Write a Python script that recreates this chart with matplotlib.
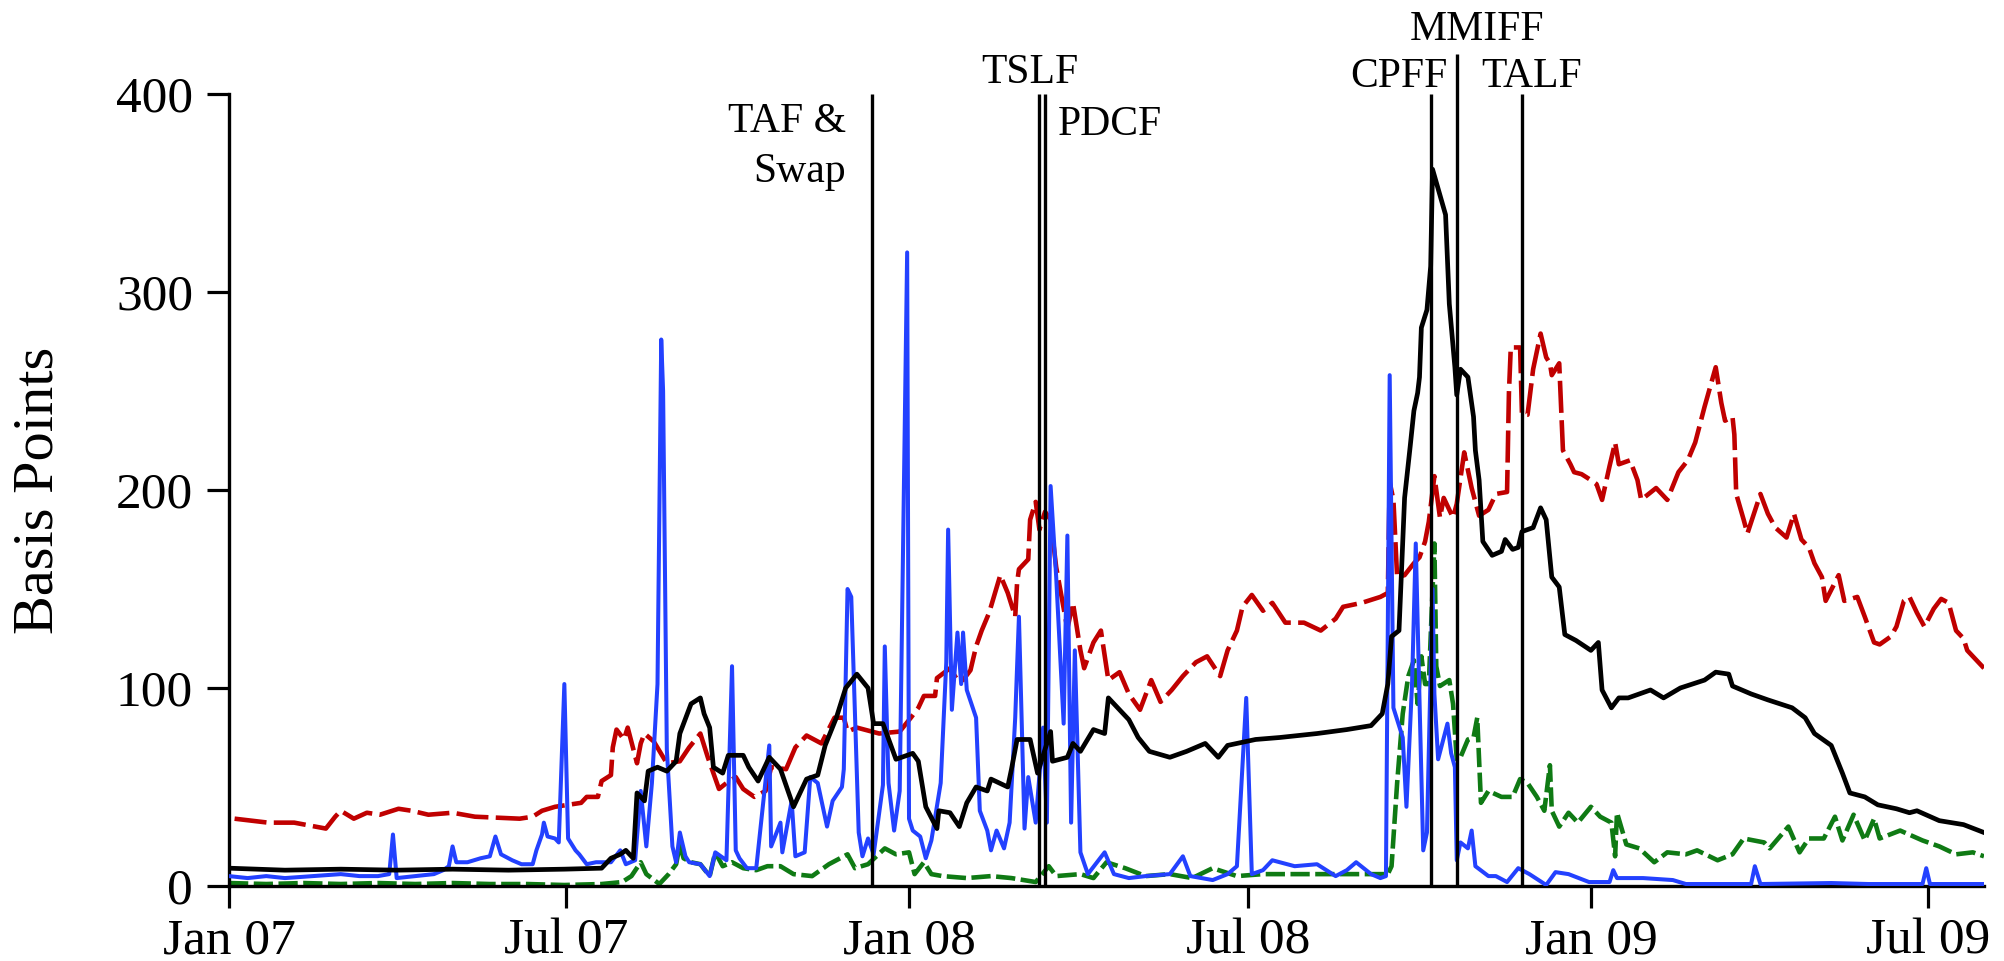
import numpy as np
import matplotlib
matplotlib.use("Agg")
import matplotlib.pyplot as plt

plt.rcParams['font.family'] = ['Liberation Serif', 'DejaVu Serif']

BASE = np.datetime64('2007-01-01')

# ---- data: day offsets from 2007-01-01 and values (basis points) ----
black_days = [0, 30, 60, 90, 120, 150, 180, 200, 205, 210, 213, 217, 219, 223, 225, 230, 235, 240, 242, 248,
              253, 255, 258, 260, 265, 268, 276, 279, 284, 290, 296, 303, 310, 316, 320, 326, 331, 337, 343, 346,
              351, 358, 367, 370, 374, 380, 381, 387, 392, 396, 401, 407, 409, 418, 420, 423, 430, 434, 438, 441,
              442, 450, 453, 457, 464, 470, 472, 477, 483, 488, 494, 505, 514, 524, 531, 536, 551, 564, 584, 600,
              613, 619, 622, 624, 628, 631, 634, 636, 638, 639, 640, 643, 645, 646, 653, 655, 658, 659, 661, 665,
              668, 669, 671, 673, 678, 683, 685, 689, 692, 694, 700, 704, 707, 710, 714, 717, 723, 731, 735, 737,
              742, 746, 751, 757, 763, 770, 779, 792, 798, 805, 807, 817, 826, 839, 846, 851, 860, 866, 870, 878,
              885, 895, 902, 906, 918, 931, 942]
black_vals = [9, 8, 8.5, 8, 8.5, 8, 8.5, 9, 14, 16, 18, 14, 47, 43, 58, 60, 58, 63, 77, 92,
              95, 87, 80, 60, 57, 66, 66, 60, 53, 65, 59, 40, 54, 56, 71, 85, 100, 107, 100, 82,
              82, 64, 67, 63, 40, 29, 38, 37, 30, 42, 50, 48, 54, 50, 59, 74, 74, 57, 69, 78,
              63, 65, 72, 68, 79, 77, 95, 90, 84, 75, 68, 65, 68, 72, 65, 71, 74, 75, 77, 79,
              81, 87, 102, 126, 129, 196, 222, 240, 249, 257, 282, 291, 313, 362, 339, 294, 262, 248, 261, 257,
              237, 220, 205, 174, 167, 169, 175, 170, 171, 179, 181, 191, 185, 156, 151, 127, 124, 119, 123, 99,
              90, 95, 95, 97, 99, 95, 100, 104, 108, 107, 101, 97, 94, 90, 85, 77, 71, 57, 47, 45,
              41, 39, 37, 38, 33, 31, 27]

red_days = [3, 21, 35, 52, 57, 60, 67, 74, 81, 91, 98, 107, 120, 132, 156, 163, 168, 175, 189, 192,
            198, 200, 205, 206, 208, 212, 214, 219, 221, 223, 228, 235, 242, 247, 253, 257, 263, 267, 272, 276,
            282, 288, 291, 299, 304, 310, 318, 325, 330, 332, 337, 349, 360, 366, 370, 373, 379, 380, 387, 391,
            394, 398, 401, 404, 408, 414, 418, 422, 423, 424, 429, 430, 433, 435, 438, 441, 444, 450, 453, 457,
            459, 464, 468, 472, 478, 483, 489, 495, 500, 506, 512, 519, 525, 532, 536, 541, 544, 549, 555, 560,
            567, 577, 586, 594, 598, 608, 618, 622, 623, 625, 627, 631, 636, 639, 642, 644, 647, 650, 652, 657,
            659, 663, 667, 671, 676, 680, 686, 687, 688, 693, 694, 697, 700, 704, 707, 709, 710, 714, 716, 720,
            722, 726, 731, 734, 737, 741, 744, 746, 752, 756, 758, 766, 772, 778, 783, 787, 792, 798, 801, 803,
            807, 808, 809, 813, 815, 822, 826, 830, 836, 840, 844, 848, 851, 855, 857, 864, 867, 874, 878, 883,
            886, 892, 895, 899, 902, 906, 910, 915, 919, 923, 927, 931, 933, 937, 942]
red_vals = [34, 32, 32, 29, 35, 38, 34, 37, 36, 39, 38, 36, 37, 35, 34, 35, 38, 40, 42, 45,
            45, 53, 56, 70, 79, 74, 80, 62, 72, 77, 73, 62, 63, 70, 77, 65, 49, 52, 55, 49,
            45, 48, 60, 59, 70, 76, 72, 85, 85, 78, 80, 77, 78, 85, 90, 96, 96, 105, 110, 104,
            104, 109, 121, 129, 138, 157, 148, 136, 153, 160, 165, 185, 194, 180, 189, 185, 161, 130, 143, 119,
            110, 123, 129, 104, 108, 97, 89, 104, 93, 99, 106, 113, 116, 106, 119, 129, 141, 147, 139, 143,
            133, 133, 129, 135, 141, 143, 146, 148, 204, 195, 156, 157, 163, 166, 174, 184, 207, 186, 196, 186,
            193, 219, 201, 187, 190, 198, 199, 249, 272, 272, 238, 238, 261, 279, 267, 264, 258, 264, 220, 213,
            209, 208, 205, 203, 195, 212, 224, 213, 215, 205, 195, 201, 195, 209, 215, 224, 242, 262, 244, 235,
            237, 228, 198, 185, 178, 198, 188, 181, 176, 188, 175, 171, 163, 156, 144, 157, 144, 146, 136, 123,
            122, 126, 131, 144, 146, 138, 131, 140, 145, 143, 129, 125, 119, 115, 110]

blue_days = [0, 10, 20, 30, 45, 60, 70, 80, 86, 88, 90, 100, 110, 115, 118, 120, 122, 128, 135, 140,
             143, 146, 152, 157, 163, 165, 168, 169, 171, 175, 177, 180, 182, 186, 188, 192, 197, 205, 210, 213,
             218, 221, 224, 227, 230, 232, 233, 235, 238, 240, 242, 245, 247, 253, 258, 261, 267, 270, 272, 274,
             278, 283, 290, 291, 296, 297, 302, 304, 309, 312, 316, 321, 324, 329, 330, 332, 334, 338, 340, 343,
             346, 347, 351, 352, 354, 357, 360, 364, 365, 367, 371, 374, 377, 382, 385, 386, 388, 391, 393, 394,
             396, 401, 403, 407, 409, 412, 416, 419, 422, 424, 427, 429, 433, 437, 439, 441, 444, 448, 450, 452,
             454, 457, 461, 470, 475, 483, 492, 505, 512, 516, 528, 536, 541, 546, 549, 555, 560, 572, 584, 594,
             600, 605, 613, 618, 621, 623, 625, 630, 632, 635, 637, 639, 641, 643, 646, 647, 649, 654, 656, 658,
             659, 661, 665, 667, 669, 676, 680, 686, 692, 698, 707, 712, 719, 730, 741, 743, 745, 759, 775, 782,
             817, 819, 822, 860, 880, 909, 911, 913, 942]
blue_vals = [5, 4, 5, 4, 5, 6, 5, 5, 6, 26, 4, 5, 6, 8, 10, 20, 12, 12, 14, 15,
             25, 16, 13, 11, 11, 18, 26, 32, 25, 24, 22, 102, 24, 18, 16, 11, 12, 12, 18, 11,
             13, 48, 20, 52, 102, 276, 250, 69, 20, 12, 27, 15, 12, 11, 5, 17, 13, 111, 18, 14,
             9, 9, 71, 20, 32, 17, 43, 15, 17, 55, 52, 30, 43, 50, 59, 150, 146, 27, 15, 24,
             16, 23, 51, 121, 52, 28, 48, 320, 34, 28, 25, 14, 23, 52, 113, 180, 89, 128, 102, 128,
             99, 85, 38, 28, 18, 28, 19, 32, 85, 136, 29, 55, 32, 80, 32, 202, 156, 82, 177, 32,
             119, 17, 6, 17, 6, 4, 5, 6, 15, 5, 3, 6, 10, 95, 6, 8, 13, 10, 11, 5,
             8, 12, 6, 4, 5, 258, 90, 75, 40, 102, 173, 94, 18, 27, 150, 97, 64, 82, 67, 60,
             13, 22, 19, 28, 10, 5, 5, 2, 9, 6, 0.5, 7, 6, 2, 2, 8, 4, 4, 3, 1,
             1, 10, 1, 1.5, 1, 1, 9, 1, 1]

green_days = [0, 20, 40, 60, 80, 100, 120, 140, 160, 180, 200, 211, 216, 221, 224, 231, 236, 240, 242, 244,
              248, 253, 258, 261, 265, 270, 276, 283, 289, 296, 303, 313, 322, 332, 336, 343, 352, 358, 365, 368,
              373, 377, 383, 396, 409, 420, 433, 440, 444, 457, 464, 471, 481, 492, 505, 517, 528, 541, 555, 580,
              610, 622, 624, 627, 630, 633, 636, 638, 640, 642, 644, 647, 648, 650, 655, 657, 659, 661, 665, 668,
              670, 672, 676, 683, 689, 693, 697, 702, 706, 709, 710, 714, 719, 724, 731, 736, 742, 744, 745, 750,
              757, 765, 772, 782, 788, 799, 807, 813, 824, 827, 837, 843, 848, 856, 862, 866, 872, 878, 883, 886,
              897, 909, 918, 927, 936, 942]
green_vals = [1.5, 1, 1.5, 1, 1.5, 1, 1.5, 1, 1, 0.5, 1, 2, 5, 12, 6, 1, 6, 11, 21, 14,
              12, 11, 5, 17, 10, 12, 9, 8, 10, 10, 6, 5, 11, 16, 9, 11, 19, 16, 17, 6,
              12, 6, 5, 4, 5, 4, 2, 10, 5, 6, 4, 12, 9, 5, 6, 4, 9, 5, 6, 6,
              6, 6, 10, 52, 87, 106, 114, 92, 116, 102, 102, 173, 111, 101, 104, 92, 64, 65, 74, 75,
              85, 42, 48, 45, 45, 54, 52, 45, 38, 61, 38, 30, 37, 32, 40, 35, 32, 15, 37, 21,
              19, 12, 17, 16, 18, 13, 16, 24, 22, 19, 30, 17, 24, 24, 35, 23, 36, 23, 34, 24,
              28, 23, 20, 16, 17, 15]

event_dates = ['2007-12-12', '2008-03-11', '2008-03-14', '2008-10-07', '2008-10-21', '2008-11-25']
event_tops = [400, 400, 400, 400, 420, 400]

tick_dates = ['2007-01-01', '2007-07-01', '2008-01-01', '2008-07-01', '2009-01-01', '2009-07-01']
tick_labels = ['Jan 07', 'Jul 07', 'Jan 08', 'Jul 08', 'Jan 09', 'Jul 09']
y_ticks = [0, 100, 200, 300, 400]


def to_dates(days):
    return BASE + np.array(days, dtype='timedelta64[D]')


fig = plt.figure(figsize=(20.04, 9.61), dpi=100)
ax = fig.add_axes([229 / 2004, 75 / 961, 1755 / 2004, 792 / 961])

ax.plot(to_dates(green_days), green_vals, color='#0f7a14', lw=3.3, dashes=(4.2, 1.2), zorder=2)
ax.plot(to_dates(red_days), red_vals, color='#c00000', lw=3.3, dashes=(7.0, 1.6), zorder=3)
ax.plot(to_dates(blue_days), blue_vals, color='#2341ff', lw=2.9, zorder=4)
ax.plot(to_dates(black_days), black_vals, color='black', lw=3.4, zorder=5)

ev = np.array(event_dates, dtype='datetime64[D]')
ax.vlines(ev, 0, event_tops, color='black', lw=2.4, zorder=6, clip_on=False)

# event labels
fs_ev = 30
ax.text(np.datetime64('2007-11-28'), 380.8, 'TAF &', ha='right', va='baseline', fontsize=fs_ev)
ax.text(np.datetime64('2007-11-28'), 355.6, 'Swap', ha='right', va='baseline', fontsize=fs_ev)
ax.text(np.datetime64('2008-03-06'), 405.6, 'TSLF', ha='center', va='baseline', fontsize=fs_ev, clip_on=False)
ax.text(np.datetime64('2008-03-21'), 379.3, 'PDCF', ha='left', va='baseline', fontsize=fs_ev)
ax.text(np.datetime64('2008-09-20'), 403.5, 'CPFF', ha='center', va='baseline', fontsize=fs_ev, clip_on=False)
ax.text(np.datetime64('2008-11-01'), 427.3, 'MMIFF', ha='center', va='baseline', fontsize=fs_ev, clip_on=False)
ax.text(np.datetime64('2008-11-30'), 403.5, 'TALF', ha='center', va='baseline', fontsize=fs_ev, clip_on=False)

ax.set_xlim(np.datetime64('2007-01-01'), np.datetime64('2009-07-31'))
ax.set_ylim(0, 400)
ax.set_xticks(np.array(tick_dates, dtype='datetime64[D]'))
ax.set_xticklabels(tick_labels)
ax.set_yticks(y_ticks)
ax.tick_params(axis='both', direction='out', length=15.8, width=2.3, labelsize=37)
ax.tick_params(axis='x', pad=7)
ax.tick_params(axis='y', pad=10)

for s in ['top', 'right']:
    ax.spines[s].set_visible(False)
for s in ['left', 'bottom']:
    ax.spines[s].set_linewidth(2.4)

ax.set_ylabel('Basis Points', fontsize=42)
ax.yaxis.set_label_coords(-0.094, 0.5)

fig.savefig('out.png', dpi=100)
